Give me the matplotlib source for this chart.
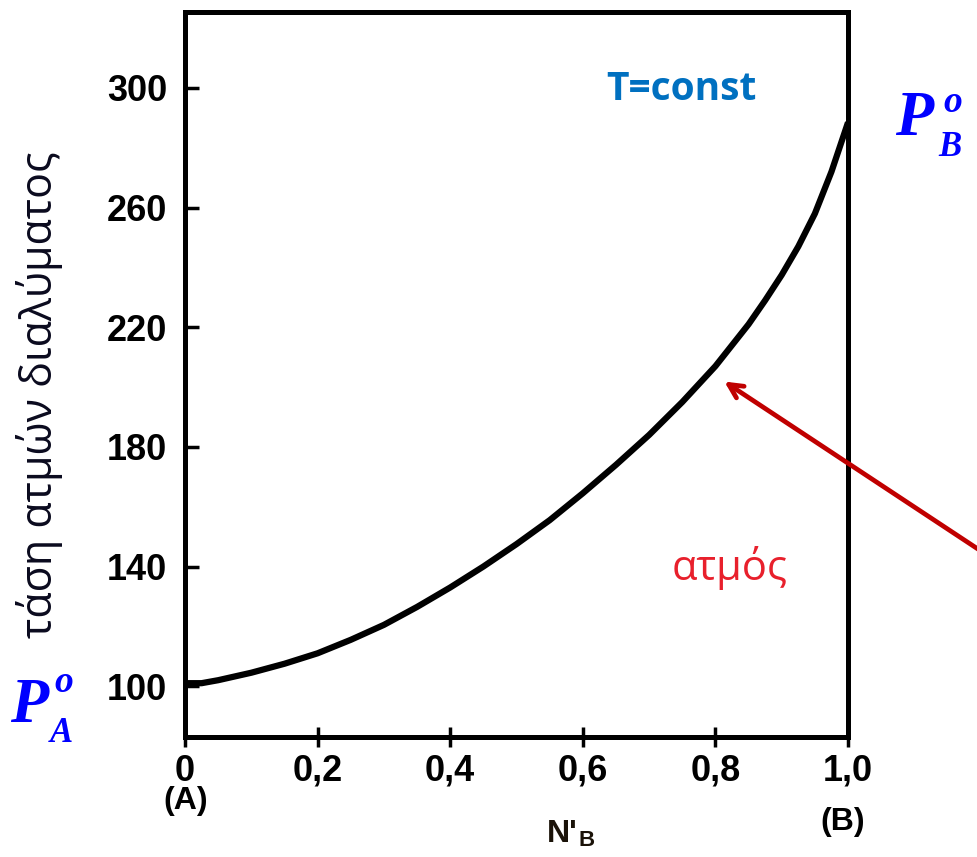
import matplotlib.pyplot as plt

# vapour pressure of the solution vs vapour-phase mole fraction of B
n_b = [0.0, 0.025, 0.05, 0.1, 0.15, 0.2, 0.25, 0.3, 0.35, 0.4, 0.45, 0.5,
       0.55, 0.6, 0.65, 0.7, 0.75, 0.8, 0.825, 0.85, 0.875, 0.9, 0.925,
       0.95, 0.975, 1.0]
pressure = [101, 101, 102, 104.5, 107.5, 111, 115.5, 120.5, 126.5, 133, 140,
            147.5, 155.5, 164.5, 174, 184, 195, 207, 214, 221, 229, 237.5,
            247, 258, 272, 288.5]

x_ticks = [0, 0.2, 0.4, 0.6, 0.8, 1.0]
x_labels = ['0', '0,2', '0,4', '0,6', '0,8', '1,0']
y_ticks = [100, 140, 180, 220, 260, 300]

W, H = 977, 857
fig = plt.figure(figsize=(W / 100, H / 100), dpi=100)
ax = fig.add_axes([0.1894, 0.140, 0.6786, 0.846])


def fx(px):
    return px / W


def fy(py):
    return 1 - py / H


ax.plot(n_b, pressure, color='black', lw=4.5, solid_joinstyle='round',
        solid_capstyle='butt')

ax.set_xlim(0, 1)
ax.set_ylim(83, 325.4)
ax.set_xticks(x_ticks)
ax.set_xticklabels(x_labels)
ax.set_yticks(y_ticks)

for s in ax.spines.values():
    s.set_linewidth(3.6)

ax.tick_params(axis='x', direction='inout', length=14, width=2.5, pad=5)
ax.tick_params(axis='y', direction='in', length=10, width=2.5, pad=13)
for lab in ax.get_xticklabels() + ax.get_yticklabels():
    lab.set_fontfamily('Liberation Sans')
    lab.set_fontweight('bold')
    lab.set_fontsize(26)

# axis titles
fig.text(fx(40), fy(395), 'τάση ατμών διαλύματος', rotation=90,
         ha='center', va='center', fontsize=31, color='#0a0a1e',
         family='Open Sans')
fig.text(fx(186), fy(801), '(A)', ha='center', va='center',
         fontsize=23, fontweight='bold', family='Liberation Sans')
fig.text(fx(843), fy(822), '(B)', ha='center', va='center',
         fontsize=23, fontweight='bold', family='Liberation Sans')
fig.text(fx(578), fy(834), "N'", ha='right', va='center',
         fontsize=23, fontweight='bold', family='Liberation Sans', color='#1a1208')
fig.text(fx(578), fy(841), 'B', ha='left', va='center',
         fontsize=16, fontweight='bold', family='Liberation Sans', color='#1a1208')

# annotations inside the plot
fig.text(fx(681), fy(89), 'T=const', ha='center', va='center',
         fontsize=28, fontweight='bold', color='#0070c0', family='Open Sans')
fig.text(fx(730), fy(568), 'ατμός', ha='center', va='center',
         fontsize=30, color='#e8202c', family='Open Sans')

# pure-component vapour pressures
serif = dict(color='#0000ff', family='Liberation Serif',
             fontweight='bold', fontstyle='italic', ha='left', va='baseline')


def p_zero(p_xy, o_xy, sub_xy, sub):
    fig.text(fx(p_xy[0]), fy(p_xy[1]), 'P', fontsize=45, **serif)
    fig.text(fx(o_xy[0]), fy(o_xy[1]), 'o', fontsize=27, **serif)
    fig.text(fx(sub_xy[0]), fy(sub_xy[1]), sub, fontsize=25, **serif)


p_zero((10, 722), (54, 692), (50, 742), 'A')
p_zero((895, 135), (943, 112), (938, 156), 'B')

# arrow pointing at the vapour curve
ax.annotate('', xy=(fx(722), fy(380)), xycoords='figure fraction',
            xytext=(fx(990), fy(557)), textcoords='figure fraction',
            arrowprops=dict(arrowstyle='->,head_length=1.0,head_width=0.5',
                            color='#c00000', lw=3.4),
            annotation_clip=False)

fig.savefig('out.png', dpi=100)
